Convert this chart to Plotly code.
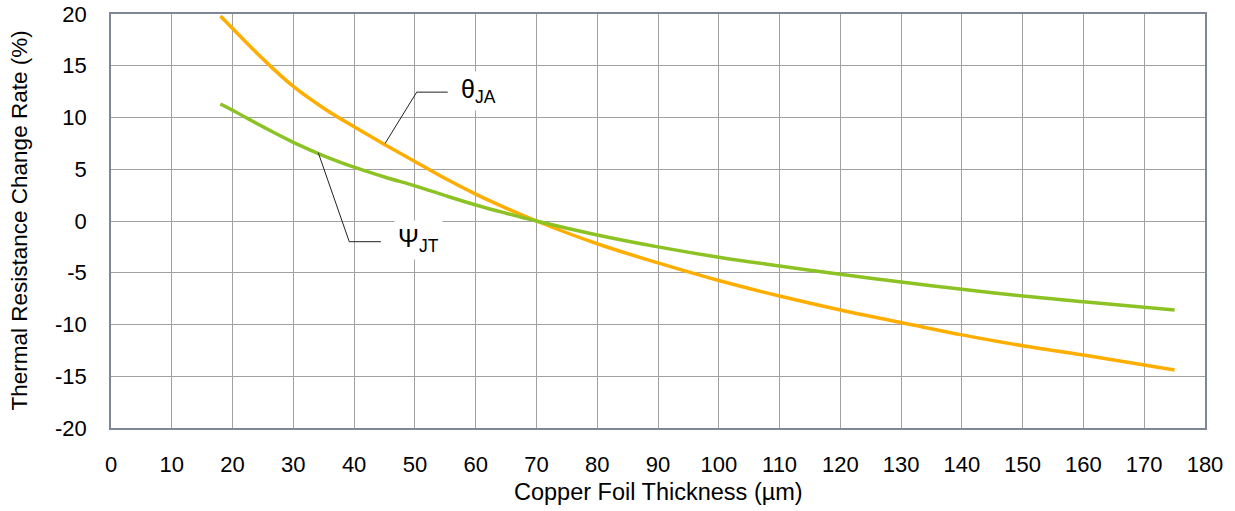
import plotly.graph_objects as go

# толщина медной фольги (мкм)
thickness = [18, 20, 25, 30, 35, 40, 45, 50, 55, 60, 65, 70, 80, 90, 100, 110, 120, 130, 140, 150, 160, 175]

# изменение теплового сопротивления (%)
theta_ja = [19.8, 18.6, 15.65, 13.0, 10.9, 9.1, 7.4, 5.75, 4.1, 2.6, 1.25, 0.0, -2.2, -4.05, -5.75, -7.25, -8.6, -9.8, -11.0, -12.05, -12.95, -14.4]
psi_jt = [11.3, 10.7, 9.1, 7.6, 6.3, 5.2, 4.25, 3.4, 2.45, 1.55, 0.75, 0.0, -1.35, -2.5, -3.5, -4.35, -5.15, -5.9, -6.6, -7.25, -7.8, -8.6]

x_ticks = list(range(0, 181, 10))
y_ticks = list(range(-20, 21, 5))
y_ticktext = [str(v) for v in y_ticks]

fig = go.Figure()
fig.add_trace(go.Scatter(x=thickness, y=theta_ja, mode='lines', name='θJA',
                         line=dict(color='#FFAE00', width=3.5, shape='spline', smoothing=1.1)))
fig.add_trace(go.Scatter(x=thickness, y=psi_jt, mode='lines', name='ΨJT',
                         line=dict(color='#8CC224', width=3.5, shape='spline', smoothing=1.1)))

# выноски с подписями
leaders = [
    ([45.1, 50.3, 55.4], [7.5, 12.45, 12.45]),
    ([34.1, 39.2, 44.4], [6.6, -2.0, -2.0]),
]
for lx, ly in leaders:
    fig.add_trace(go.Scatter(x=lx, y=ly, mode='lines', hoverinfo='skip',
                             line=dict(color='#222222', width=1)))

fig.add_annotation(x=57.0, y=12.55, text='θ<sub>JA</sub>', showarrow=False, xanchor='left',
                   bgcolor='white', borderpad=3, font=dict(size=25, color='#000000'))
fig.add_annotation(x=46.6, y=-1.85, text='Ψ<sub>JT</sub>', showarrow=False, xanchor='left',
                   bgcolor='white', borderpad=3, font=dict(size=25, color='#000000'))

# подписи осей
fig.add_annotation(x=0.5, y=0, xref='paper', yref='paper', yshift=-64, yanchor='middle',
                   text='Copper Foil Thickness (µm)', showarrow=False,
                   font=dict(size=23.5, color='#000000'))
fig.add_annotation(x=0, y=0.5, xref='paper', yref='paper', xshift=-92.5, xanchor='center',
                   text='Thermal Resistance Change Rate (%)', showarrow=False, textangle=-90,
                   font=dict(size=22.5, color='#000000'))

axis_common = dict(showgrid=True, gridcolor='#A0A0A0', gridwidth=1.3,
                   showline=True, linecolor='#7F8797', linewidth=1.5, mirror=True,
                   ticks='outside', tickcolor='rgba(0,0,0,0)', zeroline=False, automargin=False,
                   tickfont=dict(family='Liberation Sans, Arial', size=22, color='#000000'))

fig.update_layout(
    width=1235, height=511,
    margin=dict(l=111, r=30, t=14, b=83),
    paper_bgcolor='white', plot_bgcolor='white',
    showlegend=False,
    font=dict(family='Liberation Sans, Arial', color='#000000'),
    xaxis=dict(range=[0, 180], tickvals=x_ticks, ticklen=16, **axis_common),
    yaxis=dict(range=[-20, 20], tickvals=y_ticks, ticktext=y_ticktext, ticklen=18, **axis_common),
)

# убираем отступ страницы, чтобы график встал в окно целиком
fig.write_html('out.html', config={'displayModeBar': False},
               post_script="document.body.style.margin='0';")
